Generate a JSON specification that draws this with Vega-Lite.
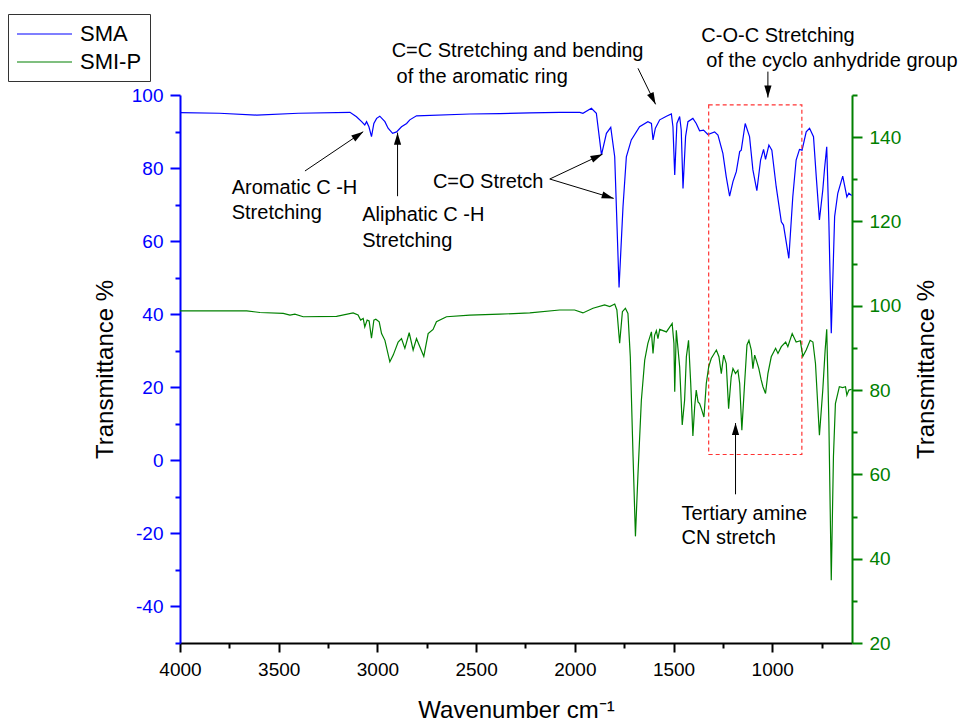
{
  "$schema": "https://vega.github.io/schema/vega-lite/v6.json",
  "width": 672,
  "height": 548,
  "autosize": {"type": "none"},
  "padding": {"left": 180, "top": 95, "right": 112, "bottom": 79},
  "background": "white",
  "config": {
    "view": {"stroke": null},
    "font": "Liberation Sans",
    "axis": {"labelFont": "Liberation Sans", "titleFont": "Liberation Sans", "grid": false, "titleFontWeight": "normal", "labelOverlap": false, "labelFlush": false}
  },
  "datasets": {
    "sma": [
      {"wn":4000,"t":95.15},{"wn":3800,"t":95.0},{"wn":3612,"t":94.5},{"wn":3400,"t":95.0},{"wn":3139,"t":95.26},
      {"wn":3106,"t":94.06},{"wn":3080,"t":92.7},{"wn":3064,"t":91.8},{"wn":3055,"t":92.7},{"wn":3043,"t":91.3},
      {"wn":3030,"t":88.6},{"wn":3018,"t":92.2},{"wn":3004,"t":93.6},{"wn":2988,"t":94.2},{"wn":2962,"t":92.7},
      {"wn":2946,"t":90.9},{"wn":2923,"t":89.5},{"wn":2903,"t":89.9},{"wn":2878,"t":91.3},{"wn":2852,"t":92.2},
      {"wn":2836,"t":93.2},{"wn":2802,"t":94.3},{"wn":2532,"t":94.8},{"wn":2380,"t":94.9},{"wn":2228,"t":95.1},
      {"wn":2077,"t":95.26},{"wn":1975,"t":95.26},{"wn":1959,"t":94.99},{"wn":1916,"t":96.36},{"wn":1891,"t":95.0},
      {"wn":1865,"t":83.6},{"wn":1840,"t":89.5},{"wn":1818,"t":91.15},{"wn":1798,"t":83.1},{"wn":1776,"t":47.3},
      {"wn":1756,"t":69.4},{"wn":1739,"t":83.1},{"wn":1714,"t":87.7},{"wn":1672,"t":91.3},{"wn":1630,"t":92.7},
      {"wn":1612,"t":92.2},{"wn":1604,"t":87.7},{"wn":1592,"t":90.9},{"wn":1570,"t":93.2},{"wn":1536,"t":94.2},
      {"wn":1511,"t":94.8},{"wn":1503,"t":91.3},{"wn":1494,"t":78.1},{"wn":1483,"t":92.2},{"wn":1469,"t":94.1},
      {"wn":1461,"t":90.4},{"wn":1452,"t":74.4},{"wn":1439,"t":88.6},{"wn":1427,"t":92.7},{"wn":1402,"t":93.6},
      {"wn":1385,"t":92.2},{"wn":1368,"t":90.2},{"wn":1348,"t":90.4},{"wn":1326,"t":89.2},{"wn":1292,"t":89.9},
      {"wn":1275,"t":89.0},{"wn":1250,"t":84.0},{"wn":1233,"t":77.6},{"wn":1216,"t":72.3},{"wn":1199,"t":76.3},
      {"wn":1182,"t":79.0},{"wn":1165,"t":84.5},{"wn":1157,"t":84.9},{"wn":1137,"t":92.2},{"wn":1115,"t":88.6},
      {"wn":1098,"t":79.5},{"wn":1078,"t":73.8},{"wn":1059,"t":82.2},{"wn":1044,"t":85.1},{"wn":1034,"t":82.4},
      {"wn":1017,"t":86.3},{"wn":1002,"t":84.9},{"wn":980,"t":74.9},{"wn":954,"t":65.3},{"wn":943,"t":64.4},
      {"wn":916,"t":55.3},{"wn":896,"t":72.1},{"wn":879,"t":82.2},{"wn":862,"t":85.1},{"wn":849,"t":84.9},
      {"wn":828,"t":89.9},{"wn":811,"t":90.9},{"wn":791,"t":88.6},{"wn":777,"t":77.6},{"wn":761,"t":65.8},
      {"wn":744,"t":74.0},{"wn":735,"t":79.9},{"wn":724,"t":85.8},{"wn":713,"t":64.9},{"wn":701,"t":34.8},
      {"wn":684,"t":66.7},{"wn":668,"t":73.1},{"wn":643,"t":77.8},{"wn":622,"t":72.1},{"wn":612,"t":73.1},
      {"wn":598,"t":72.5}
    ],
    "smip": [
      {"wn":4000,"t":98.8},{"wn":3662,"t":98.8},{"wn":3595,"t":98.4},{"wn":3477,"t":98.2},{"wn":3443,"t":97.8},
      {"wn":3418,"t":98.0},{"wn":3376,"t":97.4},{"wn":3207,"t":97.5},{"wn":3123,"t":98.3},{"wn":3098,"t":97.8},
      {"wn":3085,"t":96.6},{"wn":3072,"t":97.0},{"wn":3064,"t":95.0},{"wn":3052,"t":96.6},{"wn":3042,"t":96.4},
      {"wn":3030,"t":92.3},{"wn":3018,"t":96.6},{"wn":3008,"t":96.8},{"wn":2991,"t":96.2},{"wn":2979,"t":93.4},
      {"wn":2962,"t":91.8},{"wn":2937,"t":86.7},{"wn":2920,"t":88.3},{"wn":2895,"t":91.4},{"wn":2878,"t":92.2},
      {"wn":2861,"t":89.9},{"wn":2839,"t":93.6},{"wn":2819,"t":89.5},{"wn":2802,"t":92.2},{"wn":2765,"t":88.0},
      {"wn":2743,"t":93.4},{"wn":2718,"t":94.4},{"wn":2701,"t":96.2},{"wn":2650,"t":97.4},{"wn":2532,"t":97.8},
      {"wn":2380,"t":98.0},{"wn":2228,"t":98.3},{"wn":2077,"t":99.0},{"wn":2001,"t":99.0},{"wn":1959,"t":98.3},
      {"wn":1908,"t":99.4},{"wn":1849,"t":100.2},{"wn":1823,"t":99.8},{"wn":1798,"t":100.4},{"wn":1787,"t":99.0},
      {"wn":1773,"t":91.1},{"wn":1759,"t":98.6},{"wn":1744,"t":99.4},{"wn":1731,"t":98.2},{"wn":1719,"t":87.9},
      {"wn":1705,"t":64.2},{"wn":1693,"t":45.3},{"wn":1680,"t":60.2},{"wn":1663,"t":77.6},{"wn":1646,"t":87.1},
      {"wn":1630,"t":91.1},{"wn":1612,"t":93.8},{"wn":1604,"t":88.7},{"wn":1596,"t":93.0},{"wn":1587,"t":94.1},
      {"wn":1579,"t":92.2},{"wn":1570,"t":94.4},{"wn":1536,"t":93.8},{"wn":1507,"t":95.8},{"wn":1498,"t":91.1},
      {"wn":1494,"t":79.6},{"wn":1486,"t":94.2},{"wn":1469,"t":85.5},{"wn":1456,"t":71.7},{"wn":1444,"t":77.6},
      {"wn":1435,"t":87.9},{"wn":1424,"t":91.8},{"wn":1413,"t":81.6},{"wn":1402,"t":69.1},{"wn":1393,"t":76.0},
      {"wn":1385,"t":80.0},{"wn":1376,"t":77.2},{"wn":1368,"t":76.8},{"wn":1359,"t":75.6},{"wn":1346,"t":73.6},
      {"wn":1334,"t":81.6},{"wn":1322,"t":85.5},{"wn":1309,"t":87.5},{"wn":1283,"t":89.5},{"wn":1270,"t":87.9},
      {"wn":1258,"t":83.9},{"wn":1246,"t":88.3},{"wn":1233,"t":86.3},{"wn":1221,"t":75.6},{"wn":1208,"t":83.1},
      {"wn":1199,"t":85.1},{"wn":1186,"t":83.9},{"wn":1174,"t":84.7},{"wn":1165,"t":81.6},{"wn":1154,"t":70.5},
      {"wn":1140,"t":81.6},{"wn":1128,"t":90.7},{"wn":1118,"t":91.8},{"wn":1106,"t":89.5},{"wn":1098,"t":85.1},
      {"wn":1089,"t":88.3},{"wn":1078,"t":86.7},{"wn":1068,"t":85.1},{"wn":1056,"t":82.4},{"wn":1047,"t":80.8},
      {"wn":1034,"t":79.2},{"wn":1022,"t":83.9},{"wn":1005,"t":87.9},{"wn":983,"t":89.9},{"wn":971,"t":88.7},
      {"wn":954,"t":90.3},{"wn":932,"t":91.4},{"wn":921,"t":90.3},{"wn":899,"t":93.4},{"wn":879,"t":91.4},
      {"wn":858,"t":91.7},{"wn":845,"t":88.0},{"wn":828,"t":89.5},{"wn":808,"t":91.8},{"wn":794,"t":91.4},
      {"wn":781,"t":86.3},{"wn":761,"t":69.3},{"wn":744,"t":80.0},{"wn":732,"t":89.5},{"wn":724,"t":94.4},
      {"wn":713,"t":72.1},{"wn":701,"t":34.9},{"wn":690,"t":64.2},{"wn":680,"t":76.8},{"wn":660,"t":80.8},
      {"wn":643,"t":80.6},{"wn":629,"t":80.8},{"wn":622,"t":78.8},{"wn":612,"t":80.0},{"wn":598,"t":80.2}
    ],
    "notes": [
      {"wn":3738,"v":72.9,"text":"Aromatic C -H"},
      {"wn":3738,"v":66.0,"text":"Stretching"},
      {"wn":3077,"v":65.6,"text":"Aliphatic C -H"},
      {"wn":3077,"v":58.5,"text":"Stretching"},
      {"wn":2719,"v":74.5,"text":"C=O Stretch"},
      {"wn":2928,"v":110.3,"text":"C=C Stretching and bending"},
      {"wn":2903,"v":103.2,"text":"of the aromatic ring"},
      {"wn":1359,"v":114.6,"text":"C-O-C Stretching"},
      {"wn":1334,"v":107.75,"text":"of the cyclo anhydride group"},
      {"wn":1460,"v":-16.4,"text":"Tertiary amine"},
      {"wn":1460,"v":-23.0,"text":"CN stretch"}
    ],
    "arrows": [
      {"x1":3367,"y1":79.2,"x2":3072,"y2":89.95,"angle":56},
      {"x1":2898,"y1":72.3,"x2":2898,"y2":89.7,"angle":0},
      {"x1":2127,"y1":77.0,"x2":1860,"y2":83.8,"angle":65},
      {"x1":2127,"y1":77.0,"x2":1803,"y2":71.7,"angle":107},
      {"x1":1680,"y1":107.3,"x2":1591,"y2":97.45,"angle":154},
      {"x1":1022,"y1":106.4,"x2":1022,"y2":99.3,"angle":180},
      {"x1":1186,"y1":-9.3,"x2":1186,"y2":10.2,"angle":0}
    ],
    "box": [{"x1":1322,"x2":850,"y1":97.3,"y2":1.6}]
  },
  "layer": [
    {
      "data": {"name": "sma"},
      "mark": {"type": "line", "strokeWidth": 1.2},
      "encoding": {
        "x": {
          "field": "wn", "type": "quantitative",
          "scale": {"domain": [4000, 596], "nice": false, "zero": false},
          "axis": {
            "title": "Wavenumber cm⁻¹",
            "values": [4000,3750,3500,3250,3000,2750,2500,2250,2000,1750,1500,1250,1000,750],
            "format": "d",
            "labelExpr": "datum.value % 500 === 0 ? datum.label : ''",
            "tickSize": {"condition": {"test": "datum.value % 500 === 0", "value": 9}, "value": 5},
            "domainColor": "black", "tickColor": "black", "domainWidth": 2, "tickWidth": 2,
            "labelFontSize": 19, "labelColor": "black", "labelPadding": 8,
            "titleFontSize": 24, "titlePadding": 19, "titleColor": "black"
          }
        },
        "y": {
          "field": "t", "type": "quantitative",
          "scale": {"domain": [-50, 100], "nice": false, "zero": false},
          "axis": {
            "title": "Transmittance %", "orient": "left",
            "values": [-50,-40,-30,-20,-10,0,10,20,30,40,50,60,70,80,90,100],
            "labelExpr": "datum.value % 20 === 0 ? replace(datum.label, '\u2212', '-') : ''",
            "tickSize": {"condition": {"test": "datum.value % 20 === 0", "value": 10}, "value": 5},
            "domainColor": "#0000FF", "tickColor": "#0000FF", "domainWidth": 2, "tickWidth": 2,
            "labelFontSize": 19, "labelColor": "#0000FF", "labelPadding": 7,
            "titleFontSize": 24, "titlePadding": 14, "titleColor": "black"
          }
        },
        "color": {
          "datum": "SMA",
          "scale": {"domain": ["SMA", "SMI-P"], "range": ["#0000FF", "#008000"]},
          "legend": {
            "title": null, "orient": "none", "legendX": -172, "legendY": -81,
            "symbolType": "M-1,0L4,0", "symbolSize": 484, "symbolStrokeWidth": 1.2,
            "labelFontSize": 22, "labelFont": "Liberation Sans", "labelColor": "black",
            "strokeColor": "#333333", "fillColor": "white", "padding": 8, "rowPadding": 5, "labelOffset": 40
          }
        }
      }
    },
    {
      "data": {"name": "box"},
      "mark": {"type": "rect", "fillOpacity": 0, "stroke": "#FF3333", "strokeDash": [4, 3], "strokeWidth": 1.2},
      "encoding": {
        "x": {"field": "x1", "type": "quantitative", "scale": {"domain": [4000, 596], "nice": false, "zero": false}},
        "x2": {"field": "x2"},
        "y": {"field": "y1", "type": "quantitative", "scale": {"domain": [-50, 100], "nice": false, "zero": false}, "axis": null},
        "y2": {"field": "y2"}
      }
    },
    {
      "data": {"name": "arrows"},
      "mark": {"type": "rule", "color": "black", "strokeWidth": 1},
      "encoding": {
        "x": {"field": "x1", "type": "quantitative", "scale": {"domain": [4000, 596], "nice": false, "zero": false}},
        "x2": {"field": "x2"},
        "y": {"field": "y1", "type": "quantitative", "scale": {"domain": [-50, 100], "nice": false, "zero": false}, "axis": null},
        "y2": {"field": "y2"}
      }
    },
    {
      "data": {"name": "arrows"},
      "mark": {"type": "point", "shape": "M0,0L0.3,1L-0.3,1Z", "filled": true, "color": "black", "opacity": 1, "size": 576, "strokeWidth": 0},
      "encoding": {
        "x": {"field": "x2", "type": "quantitative", "scale": {"domain": [4000, 596], "nice": false, "zero": false}},
        "y": {"field": "y2", "type": "quantitative", "scale": {"domain": [-50, 100], "nice": false, "zero": false}, "axis": null},
        "angle": {"field": "angle", "type": "quantitative", "scale": null}
      }
    },
    {
      "data": {"name": "notes"},
      "mark": {"type": "text", "align": "left", "baseline": "alphabetic", "fontSize": 20, "font": "Liberation Sans", "color": "black"},
      "encoding": {
        "x": {"field": "wn", "type": "quantitative", "scale": {"domain": [4000, 596], "nice": false, "zero": false}},
        "y": {"field": "v", "type": "quantitative", "scale": {"domain": [-50, 100], "nice": false, "zero": false}, "axis": null},
        "text": {"field": "text"}
      }
    },
    {
      "data": {"name": "smip"},
      "mark": {"type": "line", "strokeWidth": 1.2},
      "encoding": {
        "x": {"field": "wn", "type": "quantitative", "scale": {"domain": [4000, 596], "nice": false, "zero": false}},
        "y": {
          "field": "t", "type": "quantitative",
          "scale": {"domain": [20, 150], "nice": false, "zero": false},
          "axis": {
            "title": "Transmittance %", "orient": "right", "titleAngle": 270, "titleBaseline": "top",
            "values": [20,30,40,50,60,70,80,90,100,110,120,130,140,150],
            "labelExpr": "datum.value % 20 === 0 ? datum.label : ''",
            "tickSize": {"condition": {"test": "datum.value % 20 === 0", "value": 10}, "value": 5},
            "domainColor": "#008000", "tickColor": "#008000", "domainWidth": 2, "tickWidth": 2,
            "labelFontSize": 19, "labelColor": "#008000", "labelPadding": 7,
            "titleFontSize": 24, "titlePadding": 14, "titleColor": "black"
          }
        },
        "color": {"datum": "SMI-P"}
      }
    }
  ],
  "resolve": {"scale": {"y": "independent"}}
}
